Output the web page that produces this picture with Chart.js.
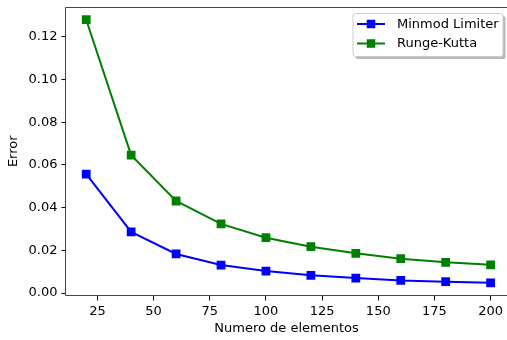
<!DOCTYPE html>
<html>
<head>
<meta charset="utf-8">
<script src="https://cdn.jsdelivr.net/npm/chart.js@4/dist/chart.umd.min.js"></script>
<style>
  html, body { margin: 0; padding: 0; background: #fff; overflow: hidden; }
  #wrap { width: 507px; height: 340px; }
</style>
</head>
<body>
<div id="wrap"><canvas id="c" width="507" height="340" style="width:507px;height:340px"></canvas></div>
<script>
// Number of elements in the mesh
const elementos = [20, 40, 60, 80, 100, 120, 140, 160, 180, 200];
// Error of each scheme
const minmodError = [0.0557, 0.0286, 0.0183, 0.0131, 0.0103, 0.0083, 0.0070, 0.0059, 0.0053, 0.0048];
const rungeKuttaError = [0.1280, 0.0646, 0.0431, 0.0324, 0.0259, 0.0217, 0.0186, 0.0161, 0.0144, 0.0132];
// Tick positions
const xTicks = [25, 50, 75, 100, 125, 150, 175, 200];
const yTicks = [0, 0.02, 0.04, 0.06, 0.08, 0.10, 0.12];

const FONT = 'DejaVu Sans';

function pts(ys) { return elementos.map((x, i) => ({ x: x, y: ys[i] })); }

// Spines: top, left and bottom edges of the plotting area
const framePlugin = {
  id: 'frame',
  afterDraw(chart) {
    const a = chart.chartArea, ctx = chart.ctx;
    const l = Math.round(a.left) - 0.5, t = Math.round(a.top) + 0.5, b = Math.round(a.bottom) - 0.5;
    ctx.save();
    ctx.strokeStyle = '#444';
    ctx.lineWidth = 1;
    ctx.beginPath();
    ctx.moveTo(a.right + 1, t);
    ctx.lineTo(l, t);
    ctx.lineTo(l, b);
    ctx.lineTo(a.right + 1, b);
    ctx.stroke();
    ctx.restore();
  }
};

// Legend box in the upper-right corner, with drop shadow
const legendBox = {
  id: 'legendBox',
  afterDraw(chart) {
    const ctx = chart.ctx;
    const x = 353, y = 13.5, w = 150, h = 43, r = 2.6;
    function rr(px, py) {
      ctx.beginPath();
      ctx.moveTo(px + r, py);
      ctx.lineTo(px + w - r, py);
      ctx.arcTo(px + w, py, px + w, py + r, r);
      ctx.lineTo(px + w, py + h - r);
      ctx.arcTo(px + w, py + h, px + w - r, py + h, r);
      ctx.lineTo(px + r, py + h);
      ctx.arcTo(px, py + h, px, py + h - r, r);
      ctx.lineTo(px, py + r);
      ctx.arcTo(px, py, px + r, py, r);
      ctx.closePath();
    }
    ctx.save();
    rr(x + 2.5, y + 2.5);
    ctx.fillStyle = 'rgba(128,128,128,0.55)';
    ctx.fill();
    rr(x, y);
    ctx.fillStyle = '#ffffff';
    ctx.fill();
    ctx.strokeStyle = '#cccccc';
    ctx.lineWidth = 1;
    ctx.stroke();
    ctx.font = '13px "' + FONT + '"';
    ctx.textBaseline = 'middle';
    chart.data.datasets.forEach((ds, i) => {
      const cy = y + 10.5 + i * 19.5;
      ctx.strokeStyle = ds.borderColor;
      ctx.lineWidth = 2;
      ctx.beginPath();
      ctx.moveTo(357, cy);
      ctx.lineTo(385, cy);
      ctx.stroke();
      ctx.fillStyle = ds.backgroundColor;
      ctx.fillRect(371 - 4.25, cy - 4.25, 8.5, 8.5);
      ctx.fillStyle = '#000';
      ctx.fillText(ds.label, 397, cy + 0.5);
    });
    ctx.restore();
  }
};

function noEdgePadding(s) {
  s.paddingTop = 0; s.paddingBottom = 0; s.paddingLeft = 0; s.paddingRight = 0;
}

new Chart(document.getElementById('c'), {
  type: 'line',
  data: {
    datasets: [
      {
        label: 'Minmod Limiter',
        data: pts(minmodError),
        borderColor: '#0000ff',
        backgroundColor: '#0000ff',
        borderWidth: 2,
        pointStyle: 'rect',
        pointRadius: 6.2,
        pointBorderWidth: 0,
        tension: 0
      },
      {
        label: 'Runge-Kutta',
        data: pts(rungeKuttaError),
        borderColor: '#008000',
        backgroundColor: '#008000',
        borderWidth: 2,
        pointStyle: 'rect',
        pointRadius: 6.2,
        pointBorderWidth: 0,
        tension: 0
      }
    ]
  },
  options: {
    responsive: false,
    animation: false,
    events: [],
    layout: { autoPadding: false, padding: { left: 0, right: 0, top: 6.5, bottom: 0 } },
    plugins: { legend: { display: false }, tooltip: { enabled: false } },
    scales: {
      x: {
        type: 'linear',
        min: 11,
        max: 207.3,
        afterBuildTicks(s) { s.ticks = xTicks.map(v => ({ value: v })); },
        afterFit(s) { s.height = 44; noEdgePadding(s); },
        grid: { drawOnChartArea: false, drawTicks: true, tickLength: 4.5, tickColor: '#000', tickWidth: 1 },
        border: { display: false },
        ticks: { color: '#000', font: { family: FONT, size: 13 }, padding: 3, maxRotation: 0 },
        title: { display: true, text: 'Numero de elementos', color: '#000', font: { family: FONT, size: 13 }, padding: { top: 0, bottom: 4 } }
      },
      y: {
        type: 'linear',
        min: -0.0014,
        max: 0.1342,
        afterBuildTicks(s) { s.ticks = yTicks.map(v => ({ value: v })); },
        afterFit(s) { s.width = 66; noEdgePadding(s); },
        grid: { drawOnChartArea: false, drawTicks: true, tickLength: 4.5, tickColor: '#000', tickWidth: 1 },
        border: { display: false },
        ticks: { color: '#000', font: { family: FONT, size: 13 }, padding: 4, callback: v => v.toFixed(2) },
        title: { display: true, text: 'Error', color: '#000', font: { family: FONT, size: 13 }, padding: { top: 6, bottom: 0 } }
      }
    }
  },
  plugins: [framePlugin, legendBox]
});
</script>
</body>
</html>
